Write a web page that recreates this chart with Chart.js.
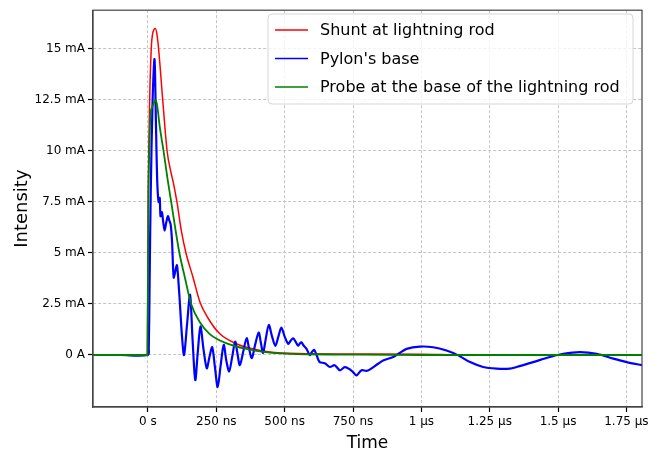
<!DOCTYPE html>
<html>
<head>
<meta charset="utf-8">
<script src="https://cdn.jsdelivr.net/npm/chart.js@4/dist/chart.umd.min.js"></script>
<style>
  html, body { margin: 0; padding: 0; background: #fff; }
  #chart { display: block; }
</style>
</head>
<body>
<canvas id="chart" width="662" height="454"></canvas>
<script>
// time in ns, current in mA
const seriesLabels = ['Shunt at lightning rod', "Pylon's base", 'Probe at the base of the lightning rod'];
const seriesColors = ['#ff0000', '#0000ff', '#008000'];

const shuntTime = [-201, -2, 1, 6, 12, 18, 27, 33, 39, 54, 70, 85, 92, 106, 122, 139, 165, 190, 220, 262, 323, 420, 518, 700, 1000, 1150, 1400, 1807];
const shuntValues = [0, 0, 7.5, 12.3, 15, 15.8, 16.0, 15.7, 15.0, 12.5, 10, 8.9, 8.5, 7.5, 6.1, 5.0, 3.8, 2.6, 1.8, 1.05, 0.55, 0.2, 0.08, 0.05, 0.04, 0.0, 0.0, 0.0];

const pylonTime = [-201, -100, 0, 3, 6, 10, 17, 24, 29, 34, 39, 43, 46, 51, 56, 61, 67, 73, 78, 83, 88, 94, 100, 106, 112, 117, 124, 132, 143, 154, 163, 173, 182, 192, 203, 215, 225, 235, 245, 255, 266, 277, 287, 297, 308, 319, 327, 336, 349, 361, 370, 380, 392, 405, 413, 421, 431, 442, 454, 466, 477, 488, 500, 513, 522, 531, 540, 549, 555, 561, 570, 580, 592, 600, 608, 618, 628, 647, 665, 683, 702, 720, 738, 751, 763, 781, 799, 811, 842, 860, 897, 921, 946, 994, 1043, 1092, 1135, 1178, 1226, 1275, 1324, 1348, 1409, 1470, 1519, 1580, 1641, 1702, 1751, 1807];
const pylonValues = [0, 0, 0, 0.3, 3.5, 7.8, 12.5, 14.5, 11.5, 8.5, 7.5, 7.7, 6.8, 7.0, 6.5, 6.1, 6.5, 6.8, 6.6, 6.4, 5.6, 3.8, 4.1, 4.4, 3.5, 2.5, 1.0, 0.0, 1.5, 2.95, 0.8, -1.23, 0.1, 1.4, 0.3, -0.65, -0.1, 0.38, -0.6, -1.57, -0.5, 0.5, -0.3, -0.8, -0.1, 0.65, 0.1, -0.5, 0.2, 0.82, 0.3, -0.15, 0.5, 1.1, 0.6, 0.1, 0.8, 1.47, 0.9, 0.45, 0.9, 1.34, 0.9, 0.55, 0.7, 0.82, 0.65, 0.46, 0.55, 0.62, 0.45, 0.3, 0.0, 0.15, 0.25, -0.05, -0.35, -0.4, -0.59, -0.5, -0.75, -0.6, -0.7, -0.85, -1.0, -0.75, -0.78, -0.72, -0.43, -0.27, -0.1, 0.1, 0.3, 0.41, 0.38, 0.22, -0.02, -0.35, -0.59, -0.67, -0.67, -0.59, -0.35, -0.1, 0.06, 0.14, 0.06, -0.18, -0.35, -0.5];

const probeTime = [-201, -2, 1.5, 6, 9, 14, 20, 28, 34, 43, 57, 72, 85, 100, 115, 135, 158, 190, 226, 293, 397, 518, 700, 1000, 1807];
const probeValues = [0, 0, 7.5, 10.5, 11.8, 12.1, 12.3, 12.5, 12.2, 11.2, 10, 8.6, 7.5, 6.2, 5.0, 3.8, 2.5, 1.6, 1.02, 0.54, 0.2, 0.05, 0.02, 0, 0];

const xTicks = [0, 250, 500, 750, 1000, 1250, 1500, 1750];
const xTickLabels = ['0 s', '250 ns', '500 ns', '750 ns', '1 µs', '1.25 µs', '1.5 µs', '1.75 µs'];
const yTicks = [0, 2.5, 5, 7.5, 10, 12.5, 15];
const yTickLabels = ['0 A', '2.5 mA', '5 mA', '7.5 mA', '10 mA', '12.5 mA', '15 mA'];

const FONT = "'DejaVu Sans', sans-serif";

function toPoints(times, values) {
    return times.map((t, i) => ({ x: t, y: values[i] }));
}

// cadre complet + légende à l'intérieur des axes (style matplotlib)
const framePlugin = {
    id: 'frame',
    afterDraw(chart) {
        const { ctx, chartArea: a } = chart;
        ctx.save();
        ctx.strokeStyle = '#444';
        ctx.lineWidth = 1.2;
        ctx.strokeRect(a.left, a.top, a.right - a.left, a.bottom - a.top);

        // legend box
        const bx = 268, by = 14, bw = 365, bh = 90, r = 4;
        ctx.beginPath();
        ctx.moveTo(bx + r, by);
        ctx.arcTo(bx + bw, by, bx + bw, by + bh, r);
        ctx.arcTo(bx + bw, by + bh, bx, by + bh, r);
        ctx.arcTo(bx, by + bh, bx, by, r);
        ctx.arcTo(bx, by, bx + bw, by, r);
        ctx.closePath();
        ctx.fillStyle = 'rgba(255,255,255,0.8)';
        ctx.fill();
        ctx.strokeStyle = '#d6d6d6';
        ctx.lineWidth = 1;
        ctx.stroke();

        ctx.font = '16px ' + FONT;
        ctx.textBaseline = 'middle';
        ctx.fillStyle = '#000';
        chart.data.datasets.forEach((ds, i) => {
            const y = by + 16 + i * 28.5;
            ctx.strokeStyle = ds.borderColor;
            ctx.lineWidth = 1.5;
            ctx.beginPath();
            ctx.moveTo(bx + 7, y);
            ctx.lineTo(bx + 40, y);
            ctx.stroke();
            ctx.fillText(ds.label, bx + 52, y + 1);
        });
        ctx.restore();
    }
};

new Chart(document.getElementById('chart'), {
    type: 'line',
    data: {
        datasets: [
            {
                label: seriesLabels[0],
                data: toPoints(shuntTime, shuntValues),
                borderColor: seriesColors[0],
                borderWidth: 1.5,
                cubicInterpolationMode: 'monotone',
                order: 3,
            },
            {
                label: seriesLabels[1],
                data: toPoints(pylonTime, pylonValues),
                borderColor: seriesColors[1],
                borderWidth: 2.2,
                tension: 0.3,
                order: 2,
            },
            {
                label: seriesLabels[2],
                data: toPoints(probeTime, probeValues),
                borderColor: seriesColors[2],
                borderWidth: 1.8,
                cubicInterpolationMode: 'monotone',
                order: 1,
            },
        ],
    },
    options: {
        responsive: false,
        animation: false,
        devicePixelRatio: 1,
        elements: { point: { radius: 0 } },
        layout: { padding: { top: 5, right: 20, left: 0, bottom: 0 } },
        plugins: {
            legend: { display: false },
            tooltip: { enabled: false },
        },
        scales: {
            x: {
                type: 'linear',
                min: -201,
                max: 1807,
                afterBuildTicks(scale) {
                    scale.ticks = xTicks.map(v => ({ value: v }));
                },
                afterFit(scale) { scale.height = 47; },
                ticks: {
                    color: '#000',
                    font: { family: FONT, size: 12 },
                    padding: 3,
                    maxRotation: 0,
                    autoSkip: false,
                    callback: (v) => xTickLabels[xTicks.indexOf(v)],
                },
                grid: {
                    color: '#c4c4c4',
                    lineWidth: 1,
                    tickLength: 5,
                    tickColor: '#000',
                    tickWidth: 1.2,
                },
                border: { display: true, color: '#444', width: 1.2, dash: [3, 2] },
                title: {
                    display: true,
                    text: 'Time',
                    color: '#000',
                    font: { family: FONT, size: 17 },
                    padding: { top: 0, bottom: 0 },
                },
            },
            y: {
                type: 'linear',
                min: -2.55,
                max: 16.9,
                afterBuildTicks(scale) {
                    scale.ticks = yTicks.map(v => ({ value: v }));
                },
                afterFit(scale) { scale.width = 93; },
                ticks: {
                    color: '#000',
                    font: { family: FONT, size: 12 },
                    padding: 3,
                    autoSkip: false,
                    callback: (v) => yTickLabels[yTicks.indexOf(v)],
                },
                grid: {
                    color: '#c4c4c4',
                    lineWidth: 1,
                    tickLength: 5,
                    tickColor: '#000',
                    tickWidth: 1.2,
                },
                border: { display: true, color: '#444', width: 1.2, dash: [3, 2] },
                title: {
                    display: true,
                    text: 'Intensity',
                    color: '#000',
                    font: { family: FONT, size: 18 },
                    padding: { top: 12, bottom: 0 },
                },
            },
        },
    },
    plugins: [framePlugin],
});
</script>
</body>
</html>
